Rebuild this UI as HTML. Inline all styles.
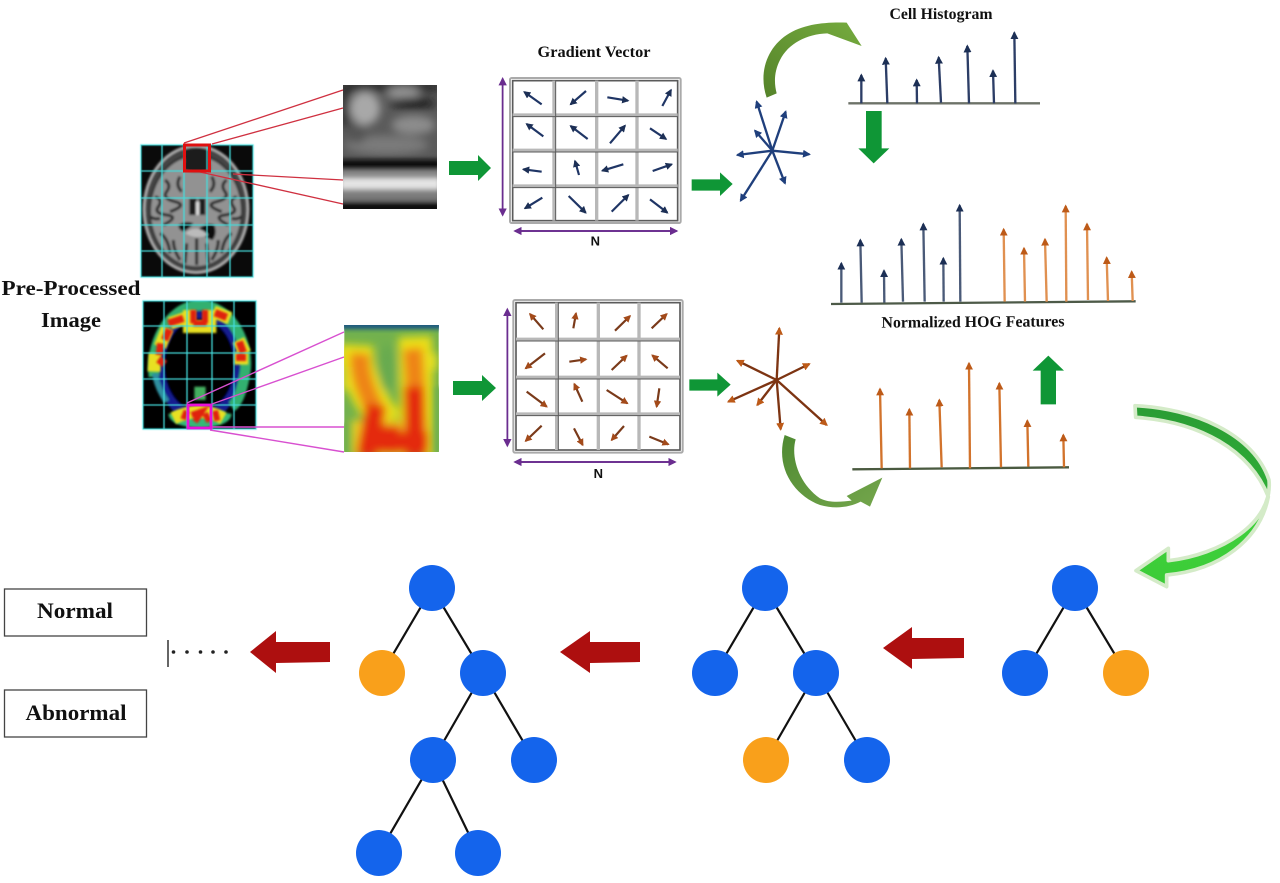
<!DOCTYPE html>
<html><head><meta charset="utf-8"><style>
html,body{margin:0;padding:0;background:#fff}
svg{display:block}
text{font-family:"Liberation Serif",serif;font-weight:bold;fill:#111}
</style></head><body>
<svg width="1280" height="883" viewBox="0 0 1280 883" xmlns="http://www.w3.org/2000/svg">
<defs>
<filter id="bs" x="-30%" y="-30%" width="160%" height="160%"><feGaussianBlur stdDeviation="3"/></filter>
<filter id="bm" x="-40%" y="-40%" width="180%" height="180%"><feGaussianBlur stdDeviation="7"/></filter>
<filter id="bz" x="-50%" y="-50%" width="200%" height="200%"><feGaussianBlur stdDeviation="13"/></filter>
<filter id="s" x="-10%" y="-10%" width="120%" height="120%"><feGaussianBlur stdDeviation="0.45"/></filter>
<marker id="mb" viewBox="0 0 4 4" markerWidth="3.4" markerHeight="3.4" refX="3.2" refY="2" orient="auto"><path d="M0,0L4,2L0,4Z" fill="#1f3f7c"/></marker>
<marker id="mk" viewBox="0 0 4 4" markerWidth="3.4" markerHeight="3.4" refX="3.2" refY="2" orient="auto"><path d="M0,0L4,2L0,4Z" fill="#1c2f55"/></marker>
<marker id="mo" viewBox="0 0 4 4" markerWidth="3.4" markerHeight="3.4" refX="3.2" refY="2" orient="auto"><path d="M0,0L4,2L0,4Z" fill="#bd5a18"/></marker>
<marker id="mr" viewBox="0 0 4 4" markerWidth="3.4" markerHeight="3.4" refX="3.2" refY="2" orient="auto"><path d="M0,0L4,2L0,4Z" fill="#a34a1a"/></marker>
<marker id="mp" markerWidth="5" markerHeight="5" refX="4" refY="2.5" orient="auto"><path d="M0,0L5,2.5L0,5Z" fill="#6a2d8f"/></marker>
<clipPath id="c1"><rect x="343" y="85" width="94" height="124"/></clipPath>
<clipPath id="c2"><rect x="344" y="325" width="95" height="127"/></clipPath>
<clipPath id="c3"><rect x="141" y="145" width="112" height="132"/></clipPath>
<clipPath id="c4"><rect x="143" y="301" width="113" height="128"/></clipPath>
<linearGradient id="g1" x1="0" y1="1" x2="1" y2="0"><stop offset="0" stop-color="#55832a"/><stop offset="1" stop-color="#75ab3e"/></linearGradient>
<linearGradient id="g2" x1="0" y1="0" x2="1" y2="1"><stop offset="0" stop-color="#4f8a32"/><stop offset="1" stop-color="#74a64c"/></linearGradient>
<linearGradient id="g3" x1="0" y1="0" x2="0" y2="1"><stop offset="0" stop-color="#2a9c34"/><stop offset="0.5" stop-color="#2fae36"/><stop offset="0.62" stop-color="#3ed03a"/><stop offset="1" stop-color="#3ccc38"/></linearGradient>
</defs>
<rect width="1280" height="883" fill="#fff"/>

<!-- Brain MRI -->
<g clip-path="url(#c3)">
<rect x="141" y="145" width="112" height="132" fill="#0a0a0a"/>
<g transform="translate(130,70) scale(0.33333)">
<g filter="url(#bs)">
<ellipse cx="198" cy="418" rx="160" ry="194" fill="#444"/>
<ellipse cx="198" cy="418" rx="156" ry="190" fill="none" stroke="#b0b0b0" stroke-width="8"/>
<ellipse cx="198" cy="422" rx="142" ry="172" fill="#383838"/>
<ellipse cx="198" cy="424" rx="135" ry="165" fill="#929292"/>
<g fill="none" stroke="#2c2c2c" stroke-width="9">
<path d="M75,380q25,10 10,30t25,25t-10,30"/><path d="M105,330q20,15 5,35t25,30t-15,30"/><path d="M320,380q-25,10 -10,30t-25,25t10,30"/><path d="M290,330q-20,15 -5,35t-25,30t15,30"/>
<path d="M150,320q-15,25 5,45"/><path d="M245,320q15,25 -5,45"/>
<path d="M90,490q25,15 30,60"/><path d="M130,510q0,30 20,60"/><path d="M305,490q-25,15 -30,60"/><path d="M265,510q0,30 -20,60"/><path d="M200,505v80"/><path d="M170,520l-5,60"/><path d="M230,520l5,60"/>
<path d="M60,440q15,10 30,5"/><path d="M335,440q-15,10 -30,5"/>
</g>
<path d="M165,240q35,-12 72,0l5,60q-40,12 -80,0Z" fill="#1c1c1c"/>
<path d="M178,385h22v50h-22zM206,385h20v50h-20z" fill="#1a1a1a"/>
<path d="M145,465q25,-15 45,-5q-10,15 -30,25q-15,-5 -15,-20zM208,475q25,-20 45,-10q10,25 -5,45q-25,-5 -40,-35z" fill="#0e0e0e"/>
<rect x="198" y="395" width="10" height="40" fill="#ddd"/>
<path d="M165,490q35,-30 70,5q-35,15 -70,-5z" fill="#bbb"/>
</g>
</g>
</g>
<g stroke="#45dcdc" stroke-width="1.300" fill="none" filter="url(#s)">
<rect x="141" y="145" width="112" height="132"/>
<path d="M162,145V277M184,145V277M207,145V277M230,145V277M141,171H253M141,198H253M141,225H253M141,251H253"/>
</g>
<g stroke="#cf3040" stroke-width="1.300" fill="none">
<path d="M184,143L343,90M212,144L343,108M200,172L343,204M233,174L343,180"/>
</g>
<rect x="184.500" y="145" width="25" height="26" fill="none" stroke="#e01010" stroke-width="3"/>

<!-- Gray crop (zoom1 coords) -->
<g clip-path="url(#c1)">
<g transform="translate(130,70) scale(0.33333)">
<rect x="638" y="45" width="285" height="372" fill="#5a5a5a"/>
<g filter="url(#bz)">
<rect x="630" y="35" width="300" height="30" fill="#2a2a2a"/>
<rect x="630" y="60" width="30" height="110" fill="#333"/>
<ellipse cx="705" cy="115" rx="45" ry="50" fill="#a8a8a8"/>
<ellipse cx="820" cy="68" rx="50" ry="18" fill="#969696"/>
<ellipse cx="850" cy="100" rx="70" ry="18" fill="#222"/>
<ellipse cx="850" cy="165" rx="65" ry="28" fill="#8c8c8c"/>
<ellipse cx="770" cy="225" rx="125" ry="28" fill="#7a7a7a"/>
<ellipse cx="680" cy="190" rx="30" ry="30" fill="#555"/>
</g>
<g filter="url(#bm)">
<rect x="630" y="268" width="300" height="32" fill="#101010"/>
<rect x="630" y="300" width="300" height="70" fill="#8a8a8a"/>
<rect x="630" y="325" width="300" height="32" fill="#e4e4e4"/>
<rect x="630" y="368" width="300" height="22" fill="#7c7c7c"/>
<rect x="630" y="398" width="300" height="30" fill="#111"/>
</g>
</g>
</g>

<!-- PET (zoom2 coords) -->
<g clip-path="url(#c4)">
<rect x="143" y="301" width="113" height="128" fill="#000"/>
<g transform="translate(130,290) scale(0.33333)">
<g filter="url(#bs)">
<ellipse cx="208" cy="225" rx="128" ry="175" fill="#141f90"/>
<ellipse cx="208" cy="225" rx="106" ry="140" fill="#000"/>
<path d="M72,260C60,170 110,50 210,45C310,50 360,170 345,250C335,310 320,340 305,350" fill="none" stroke="#30b070" stroke-width="32"/>
<path d="M115,372q95,-25 190,0q-5,38 -95,42q-90,-4 -95,-42z" fill="#35b878"/>
<path d="M75,250q5,40 35,85" fill="none" stroke="#2f8fa0" stroke-width="18"/>
</g>
<g filter="url(#bs)">
<path d="M178,60V110H240V60M120,100L165,85M250,65L300,85M112,115L90,170M75,190L72,245M325,150L345,190M312,205H355M130,385Q210,345 280,385" fill="none" stroke="#e8e020" stroke-width="38"/>
<path d="M210,330L210,290" stroke="#45b060" stroke-width="34"/>
</g>
<g filter="url(#bs)">
<path d="M190,60L190,100M225,60L225,100M190,100H230" fill="none" stroke="#e02010" stroke-width="18"/>
<path d="M115,100L160,85M255,68L290,82M118,118L104,150M92,160L88,195M85,208L105,222M328,155L340,188M318,202H348" fill="none" stroke="#e02010" stroke-width="22"/>
<path d="M160,388L170,362M185,375L215,365L195,395M225,370L238,395M255,362L262,392" fill="none" stroke="#e02010" stroke-width="18"/>
</g>
</g>
</g>
<g stroke="#45dcdc" stroke-width="1.300" fill="none" filter="url(#s)">
<rect x="143" y="301" width="113" height="128"/>
<path d="M164,301V429M187,301V429M212,301V429M234,301V429M143,326H256M143,353H256M143,379H256M143,405H256"/>
</g>
<g stroke="#d850d0" stroke-width="1.400" fill="none">
<path d="M187,403L344,332M212,404L344,357M212,427H344M210,430L344,452"/>
</g>
<rect x="188" y="405" width="23" height="23" fill="none" stroke="#e810d8" stroke-width="2.800"/>

<!-- Heat crop (zoom2 coords) -->
<g clip-path="url(#c2)">
<g transform="translate(130,290) scale(0.33333)">
<rect x="643" y="105" width="283" height="382" fill="#72b14e"/>
<g filter="url(#bm)">
<rect x="630" y="90" width="310" height="28" fill="#1c5880"/>
</g>
<g filter="url(#bz)">
<path d="M680,165C675,260 720,330 770,400M855,140C860,260 860,360 860,500" fill="none" stroke="#ece018" stroke-width="100"/>
<path d="M650,230V300" stroke="#e8dc20" stroke-width="26"/>
<path d="M905,190V240" stroke="#e8e020" stroke-width="34"/>
<rect x="665" y="390" width="235" height="110" fill="#ecd020"/>
<path d="M690,190C685,260 720,330 745,380M848,175C855,250 858,330 858,400" fill="none" stroke="#ee8414" stroke-width="58"/>
<path d="M738,345C730,400 715,450 710,500M852,290C855,370 855,430 855,500M695,455H895M780,405V490" fill="none" stroke="#e42a10" stroke-width="62"/>
<ellipse cx="772" cy="235" rx="26" ry="70" fill="#68aa50"/>
</g>
<g filter="url(#bm)">
<rect x="630" y="400" width="20" height="90" fill="#72b14e"/>
<rect x="914" y="290" width="25" height="200" fill="#72b14e"/>
</g>
</g>
</g>

<!-- Left green arrows -->
<path d="M449,161H478V155L491,168L478,181V175H449Z" fill="#0f9636"/>
<path d="M453,381H482V375L496,388L482,401V395H453Z" fill="#0f9636"/>

<!-- Grid 1 & star -->
<g transform="translate(490,60) scale(0.33333)">
<rect x="60" y="54" width="512" height="435" rx="5" fill="#fff" stroke="#aaa" stroke-width="6"/>
<rect x="68" y="62" width="495" height="420" fill="none" stroke="#5b5b5b" stroke-width="5"/>
<g stroke="#b8b8b8" stroke-width="10" fill="none" filter="url(#s)">
<path d="M192,62V482M320,62V482M441,62V482M68,165H563M68,271H563M68,378H563"/>
</g>
<g stroke="#5a5a5a" stroke-width="3" fill="none"><path d="M197,62V482M68,170H563M68,276H563M68,383H563"/></g>
<g stroke="#1f3565" stroke-width="6.500" fill="none">
<line x1="155" y1="133" x2="103" y2="96" marker-end="url(#mk)"/><line x1="288" y1="93" x2="242" y2="133" marker-end="url(#mk)"/><line x1="352" y1="112" x2="414" y2="122" marker-end="url(#mk)"/><line x1="517" y1="138" x2="543" y2="90" marker-end="url(#mk)"/>
<line x1="160" y1="229" x2="110" y2="192" marker-end="url(#mk)"/><line x1="293" y1="237" x2="242" y2="198" marker-end="url(#mk)"/><line x1="360" y1="250" x2="405" y2="197" marker-end="url(#mk)"/><line x1="480" y1="205" x2="528" y2="237" marker-end="url(#mk)"/>
<line x1="155" y1="335" x2="100" y2="328" marker-end="url(#mk)"/><line x1="267" y1="345" x2="255" y2="303" marker-end="url(#mk)"/><line x1="400" y1="313" x2="337" y2="332" marker-end="url(#mk)"/><line x1="488" y1="333" x2="545" y2="313" marker-end="url(#mk)"/>
<line x1="157" y1="413" x2="105" y2="445" marker-end="url(#mk)"/><line x1="236" y1="408" x2="287" y2="458" marker-end="url(#mk)"/><line x1="365" y1="455" x2="415" y2="405" marker-end="url(#mk)"/><line x1="480" y1="418" x2="532" y2="458" marker-end="url(#mk)"/>
</g>
<g stroke="#6a2d8f" stroke-width="5" fill="none">
<line x1="38" y1="465" x2="38" y2="56" marker-end="url(#mp)"/><line x1="38" y1="60" x2="38" y2="465" marker-end="url(#mp)"/>
<line x1="75" y1="513" x2="560" y2="513" marker-end="url(#mp)"/><line x1="560" y1="513" x2="75" y2="513" marker-end="url(#mp)"/>
</g>
<g stroke="#1f3f7c" stroke-width="7" fill="none">
<line x1="847" y1="272" x2="800" y2="125" marker-end="url(#mb)"/><line x1="847" y1="272" x2="887" y2="155" marker-end="url(#mb)"/><line x1="847" y1="272" x2="795" y2="212" marker-end="url(#mb)"/><line x1="847" y1="272" x2="742" y2="285" marker-end="url(#mb)"/><line x1="847" y1="272" x2="958" y2="283" marker-end="url(#mb)"/><line x1="847" y1="272" x2="885" y2="370" marker-end="url(#mb)"/><line x1="847" y1="272" x2="752" y2="422" marker-end="url(#mb)"/>
</g>
<path d="M605,358H690V337L728,372L690,408V392H605Z" fill="#0f9636"/>
<text x="316" y="556" text-anchor="middle" style="font-family:'Liberation Sans',sans-serif;font-size:39px">N</text>
</g>

<!-- Grid 2 & star -->
<g transform="translate(490,290) scale(0.33333)">
<rect x="70" y="30" width="508" height="458" rx="5" fill="#fff" stroke="#aaa" stroke-width="6"/>
<rect x="78" y="38" width="492" height="442" fill="none" stroke="#5b5b5b" stroke-width="5"/>
<g stroke="#b8b8b8" stroke-width="10" fill="none" filter="url(#s)">
<path d="M200,38V480M325,38V480M447,38V480M78,148H570M78,262H570M78,372H570"/>
</g>
<g stroke="#5a5a5a" stroke-width="3" fill="none"><path d="M205,38V480M78,153H570M78,267H570M78,377H570"/></g>
<g stroke="#7a3a1a" stroke-width="6.500" fill="none">
<line x1="160" y1="118" x2="120" y2="72" marker-end="url(#mr)"/><line x1="250" y1="115" x2="258" y2="70" marker-end="url(#mr)"/><line x1="375" y1="122" x2="420" y2="78" marker-end="url(#mr)"/><line x1="485" y1="115" x2="530" y2="72" marker-end="url(#mr)"/>
<line x1="165" y1="190" x2="107" y2="235" marker-end="url(#mr)"/><line x1="238" y1="215" x2="288" y2="208" marker-end="url(#mr)"/><line x1="365" y1="240" x2="410" y2="197" marker-end="url(#mr)"/><line x1="533" y1="235" x2="487" y2="196" marker-end="url(#mr)"/>
<line x1="110" y1="305" x2="170" y2="350" marker-end="url(#mr)"/><line x1="277" y1="335" x2="253" y2="282" marker-end="url(#mr)"/><line x1="350" y1="300" x2="412" y2="340" marker-end="url(#mr)"/><line x1="508" y1="295" x2="500" y2="350" marker-end="url(#mr)"/>
<line x1="155" y1="407" x2="107" y2="453" marker-end="url(#mr)"/><line x1="252" y1="415" x2="278" y2="465" marker-end="url(#mr)"/><line x1="402" y1="408" x2="365" y2="450" marker-end="url(#mr)"/><line x1="478" y1="440" x2="535" y2="463" marker-end="url(#mr)"/>
</g>
<g stroke="#6a2d8f" stroke-width="5" fill="none">
<line x1="52" y1="467" x2="52" y2="58" marker-end="url(#mp)"/><line x1="52" y1="60" x2="52" y2="467" marker-end="url(#mp)"/>
<line x1="75" y1="516" x2="555" y2="516" marker-end="url(#mp)"/><line x1="555" y1="516" x2="75" y2="516" marker-end="url(#mp)"/>
</g>
<g stroke="#7d3412" stroke-width="7" fill="none">
<line x1="860" y1="270" x2="868" y2="115" marker-end="url(#mo)"/><line x1="860" y1="270" x2="958" y2="222" marker-end="url(#mo)"/><line x1="860" y1="270" x2="742" y2="212" marker-end="url(#mo)"/><line x1="860" y1="270" x2="715" y2="335" marker-end="url(#mo)"/><line x1="860" y1="270" x2="802" y2="345" marker-end="url(#mo)"/><line x1="860" y1="270" x2="872" y2="418" marker-end="url(#mo)"/><line x1="860" y1="270" x2="1010" y2="405" marker-end="url(#mo)"/>
</g>
<path d="M598,268H682V248L722,284L682,320V302H598Z" fill="#0f9636"/>
<text x="325" y="564" text-anchor="middle" style="font-family:'Liberation Sans',sans-serif;font-size:39px">N</text>
</g>

<!-- Histograms top -->
<g transform="translate(750,0) scale(0.33333)">
<path d="M50,293C25,220 50,145 110,105C160,72 225,66 290,68L335,138L232,100C170,102 115,130 90,180C72,215 72,250 80,280Z" fill="url(#g1)"/>
<line x1="295" y1="310" x2="870" y2="310" stroke="#6d7268" stroke-width="7"/>
<g stroke="#2c3d66" stroke-width="7" fill="none">
<line x1="334" y1="310" x2="334" y2="225" marker-end="url(#mk)"/><line x1="412" y1="310" x2="407" y2="175" marker-end="url(#mk)"/><line x1="501" y1="310" x2="500" y2="240" marker-end="url(#mk)"/><line x1="573" y1="308" x2="566" y2="172" marker-end="url(#mk)"/><line x1="657" y1="310" x2="652" y2="138" marker-end="url(#mk)"/><line x1="732" y1="310" x2="729" y2="212" marker-end="url(#mk)"/><line x1="796" y1="310" x2="793" y2="98" marker-end="url(#mk)"/>
</g>
<path d="M348,333H395V445H418L371,490L325,445H348Z" fill="#0f9636"/>
<line x1="243" y1="912" x2="1157" y2="904" stroke="#4d5a48" stroke-width="7"/>
<g stroke="#4a5a78" stroke-width="7" fill="none">
<line x1="274" y1="908" x2="274" y2="790" marker-end="url(#mk)"/><line x1="335" y1="908" x2="331" y2="720" marker-end="url(#mk)"/><line x1="403" y1="908" x2="402" y2="812" marker-end="url(#mk)"/><line x1="459" y1="905" x2="454" y2="718" marker-end="url(#mk)"/><line x1="524" y1="905" x2="520" y2="672" marker-end="url(#mk)"/><line x1="581" y1="905" x2="580" y2="775" marker-end="url(#mk)"/><line x1="631" y1="905" x2="629" y2="616" marker-end="url(#mk)"/>
</g>
<g stroke="#e09050" stroke-width="7" fill="none">
<line x1="764" y1="905" x2="761" y2="688" marker-end="url(#mo)"/><line x1="825" y1="905" x2="822" y2="745" marker-end="url(#mo)"/><line x1="890" y1="905" x2="885" y2="718" marker-end="url(#mo)"/><line x1="949" y1="905" x2="947" y2="618" marker-end="url(#mo)"/><line x1="1014" y1="900" x2="1011" y2="672" marker-end="url(#mo)"/><line x1="1074" y1="903" x2="1070" y2="773" marker-end="url(#mo)"/><line x1="1148" y1="903" x2="1145" y2="815" marker-end="url(#mo)"/>
</g>
</g>

<!-- Histogram bottom & curves -->
<g transform="translate(770,310) scale(0.33333)">
<line x1="247" y1="478" x2="897" y2="472" stroke="#4a5a40" stroke-width="7"/>
<g stroke="#d2732c" stroke-width="7" fill="none">
<line x1="335" y1="475" x2="330" y2="237" marker-end="url(#mo)"/><line x1="420" y1="475" x2="418" y2="298" marker-end="url(#mo)"/><line x1="515" y1="472" x2="508" y2="270" marker-end="url(#mo)"/><line x1="600" y1="475" x2="597" y2="160" marker-end="url(#mo)"/><line x1="693" y1="472" x2="688" y2="220" marker-end="url(#mo)"/><line x1="775" y1="470" x2="772" y2="332" marker-end="url(#mo)"/><line x1="882" y1="472" x2="880" y2="375" marker-end="url(#mo)"/>
</g>
<path d="M812,283V182H788L835,137L882,182H858V283Z" fill="#0f9636"/>
<path d="M44,375L77,388C62,440 85,520 150,565C180,580 215,575 245,572L230,558L337,503L300,590L272,575C240,592 195,598 150,585C70,555 15,470 44,375Z" fill="url(#g2)"/>
<path d="M1095,287C1270,295 1450,370 1497,510C1510,640 1350,735 1195,752V715L1098,782L1190,830V795C1350,780 1470,690 1495,560C1440,420 1290,335 1097,322Z" fill="url(#g3)" stroke="#d4ebc8" stroke-width="11" stroke-linejoin="round"/>
</g>

<!-- Trees -->
<g stroke="#111" stroke-width="2.200" fill="none">
<path d="M1075,588L1025,673M1075,588L1126,673"/>
<path d="M765,588L715,673M765,588L816,673L766,760M816,673L867,760"/>
<path d="M432,588L382,673M432,588L483,673L433,760L379,853M483,673L534,760M433,760L478,853"/>
</g>
<g fill="#1464ec">
<circle cx="1075" cy="588" r="23"/><circle cx="1025" cy="673" r="23"/>
<circle cx="765" cy="588" r="23"/><circle cx="715" cy="673" r="23"/><circle cx="816" cy="673" r="23"/><circle cx="867" cy="760" r="23"/>
<circle cx="432" cy="588" r="23"/><circle cx="483" cy="673" r="23"/><circle cx="433" cy="760" r="23"/><circle cx="534" cy="760" r="23"/><circle cx="379" cy="853" r="23"/><circle cx="478" cy="853" r="23"/>
</g>
<g fill="#f9a01b">
<circle cx="1126" cy="673" r="23"/><circle cx="766" cy="760" r="23"/><circle cx="382" cy="673" r="23"/>
</g>

<!-- Red arrows -->
<g fill="#ad0f0f">
<path d="M250,652L276,631V642H330V662L276,663V673Z"/>
<path d="M560,652L590,631V642H640V662L590,663V673Z"/>
<path d="M883,648L912,627V638H964V658L912,659V669Z"/>
</g>

<!-- Boxes -->
<rect x="4.500" y="589" width="142" height="47" fill="#fff" stroke="#444" stroke-width="1.300"/>
<rect x="4.500" y="690" width="142" height="47" fill="#fff" stroke="#444" stroke-width="1.300"/>
<line x1="168" y1="640" x2="168" y2="667" stroke="#333" stroke-width="1.500"/>
<g fill="#222"><circle cx="173.500" cy="652" r="1.800"/><circle cx="187" cy="652" r="1.800"/><circle cx="200.500" cy="652" r="1.800"/><circle cx="213" cy="652" r="1.800"/><circle cx="226" cy="652" r="1.800"/></g>

<!-- Text -->
<text x="75" y="618" text-anchor="middle" font-size="22.500" textLength="76" lengthAdjust="spacingAndGlyphs">Normal</text>
<text x="76" y="720" text-anchor="middle" font-size="22.500" textLength="101" lengthAdjust="spacingAndGlyphs">Abnormal</text>
<text x="71" y="295" text-anchor="middle" font-size="21" textLength="139" lengthAdjust="spacingAndGlyphs">Pre-Processed</text>
<text x="71" y="327" text-anchor="middle" font-size="21" textLength="60" lengthAdjust="spacingAndGlyphs">Image</text>
<text x="594" y="57" text-anchor="middle" font-size="16" textLength="113" lengthAdjust="spacingAndGlyphs">Gradient Vector</text>
<text x="941" y="19" text-anchor="middle" font-size="16" textLength="103" lengthAdjust="spacingAndGlyphs">Cell Histogram</text>
<text x="973" y="327" text-anchor="middle" font-size="16" textLength="183" lengthAdjust="spacingAndGlyphs" transform="rotate(-0.4 973 327)">Normalized HOG Features</text>
</svg>
</body></html>
